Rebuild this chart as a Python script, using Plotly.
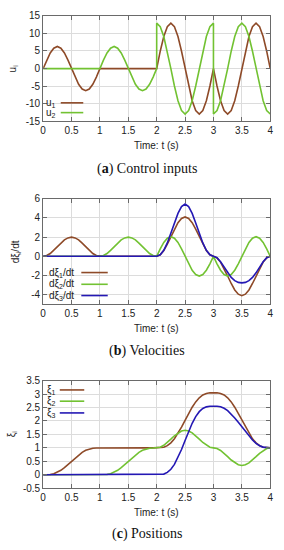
import plotly.graph_objects as go

# ---------------- data ----------------
t = [i / 16 for i in range(65)]          # sample times 0..4 s, step 1/16
t_u2 = t[:33] + [2.0] + t[33:49] + [3.0] + t[49:]   # u2 jumps at t=2 and t=3

Z16 = [0.0] * 16

u1 = ([0, 2.40, 4.44, 5.80, 6.28, 5.80, 4.44, 2.40, 0, -2.40, -4.44, -5.80, -6.28, -5.80, -4.44, -2.40, 0]
      + Z16
      + [4.94, 9.12, 11.92, 12.9, 11.92, 9.12, 4.94, 0, -4.94, -9.12, -11.92, -12.9, -11.92, -9.12, -4.94, 0]
      + [-4.94, -9.12, -11.92, -12.9, -11.92, -9.12, -4.94, 0, 4.94, 9.12, 11.92, 12.9, 11.92, 9.12, 4.94, 0])

u2 = ([0.0] * 17
      + [2.40, 4.44, 5.80, 6.28, 5.80, 4.44, 2.40, 0, -2.40, -4.44, -5.80, -6.28, -5.80, -4.44, -2.40, 0]
      + [12.9]
      + [11.92, 9.12, 4.94, 0, -4.94, -9.12, -11.92, -12.9, -11.92, -9.12, -4.94, 0, 4.94, 9.12, 11.92, 12.9]
      + [-12.9]
      + [-11.92, -9.12, -4.94, 0, 4.94, 9.12, 11.92, 12.9, 11.92, 9.12, 4.94, 0, -4.94, -9.12, -11.92, -12.9])

v1 = ([0, .08, .29, .62, 1, 1.38, 1.71, 1.92, 2, 1.92, 1.71, 1.38, 1, .62, .29, .08, 0]
      + Z16
      + [.16, .60, 1.27, 2.05, 2.83, 3.50, 3.94, 4.10, 3.94, 3.50, 2.83, 2.05, 1.27, .60, .16, 0]
      + [-.16, -.60, -1.27, -2.05, -2.83, -3.50, -3.94, -4.10, -3.94, -3.50, -2.83, -2.05, -1.27, -.60, -.16, 0])

v2 = ([0.0] * 17
      + [.08, .29, .62, 1, 1.38, 1.71, 1.92, 2, 1.92, 1.71, 1.38, 1, .62, .29, .08, 0]
      + [.78, 1.45, 1.89, 2.05, 1.89, 1.45, .78, 0, -.78, -1.45, -1.89, -2.05, -1.89, -1.45, -.78, 0]
      + [-.78, -1.45, -1.89, -2.05, -1.89, -1.45, -.78, 0, .78, 1.45, 1.89, 2.05, 1.89, 1.45, .78, 0])

v3 = ([0.0] * 17
      + Z16
      + [.16, .63, 1.39, 2.38, 3.47, 4.47, 5.18, 5.44, 5.18, 4.47, 3.47, 2.38, 1.39, .63, .16, 0]
      + [-.15, -.57, -1.14, -1.72, -2.20, -2.53, -2.71, -2.76, -2.71, -2.53, -2.20, -1.72, -1.14, -.57, -.15, 0])

xi1 = ([0, .002, .013, .041, .091, .166, .263, .377, .5, .623, .738, .835, .909, .960, .988, .998, 1]
       + [1.0] * 16
       + [1.003, 1.026, 1.083, 1.186, 1.339, 1.538, 1.772, 2.025, 2.278, 2.512, 2.711, 2.864, 2.967, 3.024, 3.047, 3.05]
       + [3.047, 3.024, 2.967, 2.864, 2.711, 2.512, 2.278, 2.025, 1.772, 1.538, 1.339, 1.186, 1.083, 1.026, 1.003, 1])

xi2 = ([0.0] * 17
       + [.002, .013, .041, .091, .166, .263, .377, .5, .623, .738, .835, .909, .960, .988, .998, 1]
       + [1.025, 1.096, 1.201, 1.326, 1.451, 1.557, 1.628, 1.653, 1.628, 1.557, 1.451, 1.326, 1.201, 1.096, 1.025, 1]
       + [.975, .904, .799, .674, .549, .443, .372, .347, .372, .443, .549, .674, .799, .904, .975, 1])

xi3 = ([0.0] * 17
       + Z16
       + [.003, .026, .088, .205, .388, .638, .941, 1.276, 1.610, 1.914, 2.164, 2.347, 2.464, 2.525, 2.549, 2.552]
       + [2.548, 2.527, 2.474, 2.385, 2.261, 2.113, 1.949, 1.777, 1.606, 1.442, 1.293, 1.170, 1.081, 1.029, 1.006, 1.003])

x_ticks = [0, 0.5, 1, 1.5, 2, 2.5, 3, 3.5, 4]
x_tick_text = ["0", "0.5", "1", "1.5", "2", "2.5", "3", "3.5", "4"]
y1_ticks = [-15, -10, -5, 0, 5, 10, 15]
y1_tick_text = ["-15", "-10", "-5", "0", "5", "10", "15"]
y2_ticks = [-4, -2, 0, 2, 4, 6]
y2_tick_text = ["-4", "-2", "0", "2", "4", "6"]
y3_ticks = [-0.5, 0, 0.5, 1, 1.5, 2, 2.5, 3, 3.5]
y3_tick_text = ["-0.5", "0", "0.5", "1", "1.5", "2", "2.5", "3", "3.5"]

captions = ["(<b>a</b>) Control inputs", "(<b>b</b>) Velocities", "(<b>c</b>) Positions"]
y_titles = ["u<sub>i</sub>", "dξ<sub>i</sub>/dt", "ξ<sub>i</sub>"]
names1 = ["u<sub>1</sub>", "u<sub>2</sub>"]
names2 = ["dξ<sub>1</sub>/dt", "dξ<sub>2</sub>/dt", "dξ<sub>3</sub>/dt"]
names3 = ["ξ<sub>1</sub>", "ξ<sub>2</sub>", "ξ<sub>3</sub>"]

# ---------------- style ----------------
BROWN = "#8e4a28"
GREEN = "#72c232"
BLUE = "#2418b4"
W, H = 284, 550
LW = 1.6

fig = go.Figure()

def add(x, y, color, ax):
    fig.add_trace(go.Scatter(x=x, y=y, mode="lines", line=dict(color=color, width=LW),
                             xaxis="x" + ax, yaxis="y" + ax, showlegend=False, hoverinfo="skip"))

add(t, u1, BROWN, "")
add(t_u2, u2, GREEN, "")
add(t, v1, BROWN, "2")
add(t, v2, GREEN, "2")
add(t, v3, BLUE, "2")
add(t, xi1, BROWN, "3")
add(t, xi2, GREEN, "3")
add(t, xi3, BLUE, "3")

# plot area pixel boxes (left, right, top, bottom)
boxes = [(41, 273, 10, 118), (41, 273, 197, 305), (41, 273, 383, 493)]
xdom = [boxes[0][0] / W, boxes[0][1] / W]
ydoms = [[1 - b[3] / H, 1 - b[2] / H] for b in boxes]

tickfont = dict(family="Liberation Sans, Arial, sans-serif", size=10, color="#222")
common = dict(showgrid=True, gridcolor="#dcdcdc", gridwidth=1, zeroline=False,
              showline=True, linecolor="#6a6a6a", linewidth=1, mirror="ticks",
              ticks="inside", ticklen=4, tickcolor="#6a6a6a", tickfont=tickfont,
              ticklabeloverflow="allow")

yinfo = [([-15, 15], y1_ticks, y1_tick_text), ([-5, 6], y2_ticks, y2_tick_text),
         ([-0.5, 3.5], y3_ticks, y3_tick_text)]
for i, suffix in enumerate(["", "2", "3"]):
    anchor = "y" + suffix
    fig.layout["xaxis" + suffix] = dict(domain=xdom, range=[0, 4], anchor=anchor,
                                        tickvals=x_ticks, ticktext=x_tick_text, **common)
    fig.layout["yaxis" + suffix] = dict(domain=ydoms[i], range=yinfo[i][0], anchor="x" + suffix,
                                        tickvals=yinfo[i][1], ticktext=yinfo[i][2], **common)

ann = []
shapes = []
labfont = dict(family="Liberation Sans, Arial, sans-serif", size=10, color="#222")
capfont = dict(family="Liberation Serif, Times New Roman, serif", size=14, color="#111")
cap_y = [167, 353, 540]
ytitle_x = [10, 13, 10]
for i, suffix in enumerate(["", "2", "3"]):
    xd, yd = "x" + suffix + " domain", "y" + suffix + " domain"
    ann.append(dict(text="Time: t (s)", xref=xd, yref=yd, x=0.5, y=0, yshift=-24,
                    showarrow=False, font=labfont, xanchor="center", yanchor="middle"))
    ann.append(dict(text=y_titles[i], xref="paper", yref=yd, x=ytitle_x[i] / W, y=0.5,
                    textangle=-90, showarrow=False, font=labfont, xanchor="center", yanchor="middle"))
    ann.append(dict(text=captions[i], xref="paper", yref="paper", x=147 / W, y=1 - cap_y[i] / H,
                    showarrow=False, font=capfont, xanchor="center", yanchor="middle"))

def legend(suffix, names, colors, text_right_px, line_px, rows_px, box):
    xd, yd = "x" + suffix + " domain", "y" + suffix + " domain"
    l, r, tp, b = box
    for name, col, ypx in zip(names, colors, rows_px):
        yf = (b - ypx) / (b - tp)
        ann.append(dict(text=name, xref=xd, yref=yd, x=(text_right_px - l) / (r - l), y=yf,
                        showarrow=False, font=labfont, xanchor="right", yanchor="middle"))
        shapes.append(dict(type="line", xref=xd, yref=yd,
                           x0=(line_px[0] - l) / (r - l), x1=(line_px[1] - l) / (r - l),
                           y0=yf, y1=yf, line=dict(color=col, width=LW)))

legend("", names1, [BROWN, GREEN], 56, (59, 82), [99, 109], boxes[0])
legend("2", names2, [BROWN, GREEN, BLUE], 75, (80, 107), [272.5, 284.5, 296], boxes[1])
legend("3", names3, [BROWN, GREEN, BLUE], 55, (58, 83), [392.5, 404, 416], boxes[2])

fig.update_layout(width=W, height=H, margin=dict(l=0, r=0, t=0, b=0),
                  plot_bgcolor="white", paper_bgcolor="white",
                  annotations=ann, shapes=shapes, showlegend=False)

fig.write_html("out.html", config={"displayModeBar": False},
               post_script="document.body.style.margin='0px';document.body.style.overflow='hidden';")
